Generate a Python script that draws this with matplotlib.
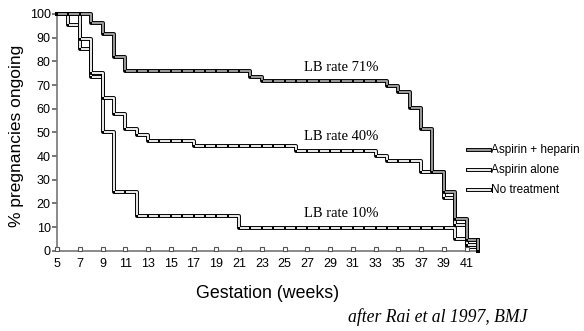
import numpy as np
from matplotlib import pyplot as plt
from matplotlib import patheffects as pe
from matplotlib.lines import Line2D

# Kaplan-Meier style curves: week where the value starts, % ongoing
heparin_weeks = [5, 8, 9, 10, 11, 22, 23, 34, 35, 36, 37, 38, 39, 40, 41, 42]
heparin_vals = [100, 96, 91.4, 82, 75.8, 73.5, 71.5, 69.5, 67.1, 60.1, 51.3, 33.1, 24.9, 13.5, 4.5, 0]

aspirin_weeks = [5, 7, 8, 9, 10, 11, 12, 13, 17, 26, 33, 34, 37, 39, 40, 41, 42]
aspirin_vals = [100, 89.6, 75.2, 64.4, 57.8, 51.3, 48.8, 46.5, 44.3, 42.1, 40.1, 38.0, 33.1, 22.3, 11.0, 2.5, 0]

none_weeks = [5, 6, 7, 8, 9, 10, 12, 21, 40, 41, 42]
none_vals = [100, 95.2, 85.4, 73.4, 50.2, 25.0, 14.8, 9.7, 5.0, 1.5, 0]

series_names = ['Aspirin + heparin', 'Aspirin alone', 'No treatment']
fill_colors = ['#a8a8a8', 'white', 'white']
rate_labels = ['LB rate 71%', 'LB rate 40%', 'LB rate 10%']
rate_y = [77.2, 48.2, 15.8]
xticks = list(range(5, 42, 2))
yticks = list(range(0, 101, 10))


def value_at(weeks, vals, w):
    idx = np.searchsorted(weeks, w, side='right') - 1
    return vals[idx]


def main():
    fig = plt.figure(figsize=(5.84, 3.31), dpi=100)
    ax = fig.add_axes([57 / 584, 1 - 250.7 / 331, (478 - 57) / 584, (250.7 - 14) / 331])

    curves = [(heparin_weeks, heparin_vals), (aspirin_weeks, aspirin_vals), (none_weeks, none_vals)]
    outline = [pe.Stroke(linewidth=2.8, foreground='black'), pe.Normal()]
    int_weeks = np.arange(5, 43)
    for (wk, vl), fc in zip(curves[::-1], fill_colors[::-1]):
        ax.step(wk, vl, where='post', color=fc, lw=1.3, path_effects=outline,
                clip_on=False, zorder=3)
        # drop to zero at the end
        ax.plot([wk[-1], wk[-1]], [vl[-2], 0], color=fc, lw=1.3,
                path_effects=outline, clip_on=False, zorder=3)
        marks = [value_at(wk, vl, w) for w in int_weeks]
        ax.plot(int_weeks, marks, 's', color='black', ms=1.8, mew=0,
                clip_on=False, zorder=4)

    ax.set_xlim(5, 42)
    ax.set_ylim(0, 100)
    for side in ['top', 'right']:
        ax.spines[side].set_visible(False)
    for side in ['left', 'bottom']:
        ax.spines[side].set_color('#777777')
        ax.spines[side].set_linewidth(1.2)

    ax.set_xticks(xticks)
    ax.set_yticks(yticks)
    ax.tick_params(axis='x', length=0, pad=5, labelsize=9)
    ax.tick_params(axis='y', length=3.5, width=1.4, color='#777777', pad=1, labelsize=9)
    for lab in ax.get_xticklabels() + ax.get_yticklabels():
        lab.set_family('Liberation Sans')
    # little square tick marks on the x axis
    ax.plot(xticks, [0.6] * len(xticks), 's', mfc='white', mec='#555555',
            ms=2.6, mew=0.8, clip_on=False, zorder=5)

    for txt, y in zip(rate_labels, rate_y):
        ax.text(30.0, y, txt, family='Liberation Serif', fontsize=10.5,
                ha='center', va='center')

    fig.text(17 / 584, 1 - 136 / 331, '% pregnancies ongoing', rotation=90,
             family='Liberation Sans', fontsize=12.5, ha='center', va='center')
    fig.text(267.5 / 584, 1 - 294 / 331, 'Gestation (weeks)',
             family='Liberation Sans', fontsize=12.8, ha='center', va='center')
    fig.text(437.5 / 584, 1 - 316.7 / 331, 'after Rai et al 1997, BMJ',
             family='Liberation Serif', style='italic', fontsize=12.7,
             ha='center', va='center')

    # hand-made legend
    for i, (name, fc) in enumerate(zip(series_names, fill_colors)):
        y = 1 - (150 + 20 * i) / 331
        ln = Line2D([468 / 584, 490 / 584], [y, y], transform=fig.transFigure,
                    color=fc, lw=1.3, path_effects=outline)
        fig.add_artist(ln)
        fig.text(491 / 584, y, name, family='Liberation Sans', fontsize=8.5,
                 ha='left', va='center')

    fig.savefig('out.png', dpi=100)


if __name__ == "__main__":
    main()
